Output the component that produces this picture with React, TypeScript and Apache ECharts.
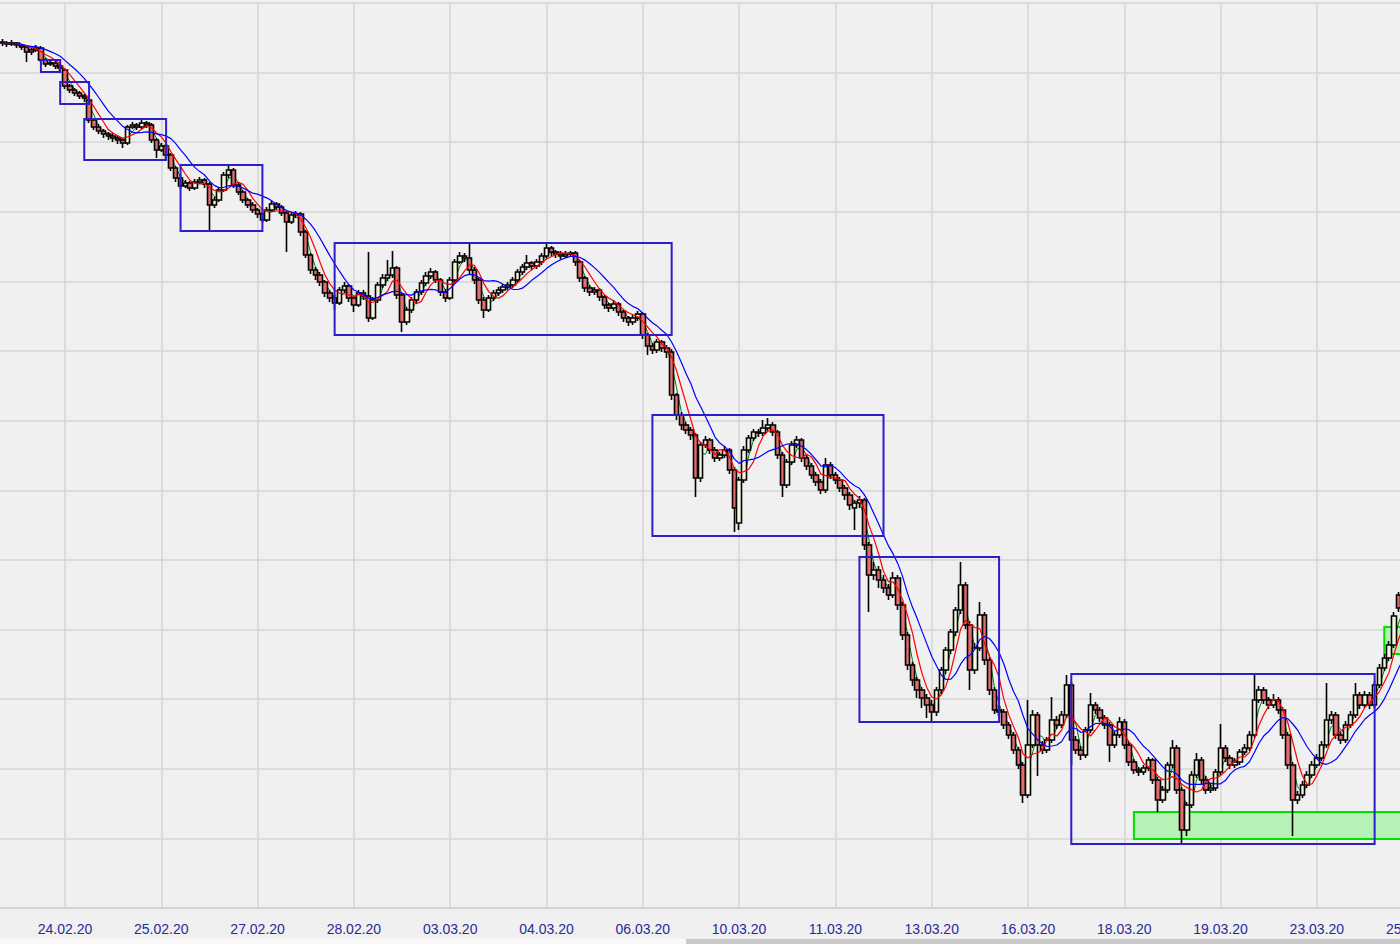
import React, { useEffect, useRef } from "react";
import * as echarts from "echarts";

// ---- tick labels (one every 20 candles, first at candle 13) ----
const dateLabels = [
  "24.02.20", "25.02.20", "27.02.20", "28.02.20", "03.03.20", "04.03.20", "06.03.20",
  "10.03.20", "11.03.20", "13.03.20", "16.03.20", "18.03.20", "19.03.20", "23.03.20", "25.03.20",
];
const firstLabelIndex = 13;
const labelStep = 20;
const categoryCount = 297;

// ---- candles: [open, close, low, high] ----
const candlesLateFeb = [
  [866,865,862,869],[865,864,861,867],[864,865,862,868],[865,863,860,866],[863,861,858,864],
  [861,856,846,862],[856,858,853,861],[858,860,856,863],[860,848,846,862],[848,844,841,850],
  [844,845,842,848],[845,842,839,847],[842,840,837,845],[838,822,819,840],[822,818,815,824],
  [818,815,812,820],[815,812,809,817],[812,810,806,814],[808,788,785,810],[788,781,778,790],
  [781,777,774,784],[777,774,770,779],[774,772,768,776],[772,770,766,775],[770,768,764,772],
  [768,765,760,770],[765,781,763,783],[781,783,779,786],[783,781,778,785],[781,785,779,788],
  [785,783,780,787],[783,768,765,785],[768,758,750,770],[758,762,756,765],[762,753,749,764],
  [753,740,737,755],[740,730,726,742],[730,722,719,733],[722,725,720,728],[725,720,717,727],
  [720,726,718,729],[726,728,724,731],[728,724,720,730],[724,703,678,726],[703,708,700,711],
  [708,718,706,721],[718,733,716,736],[733,738,730,744],[738,723,720,740],[723,716,713,726],
  [716,708,705,718],[708,703,700,710],[703,698,695,706],[698,694,690,700],[694,688,685,696],
  [688,698,686,701],[698,704,696,707],[704,701,698,706],[701,695,692,703],[695,686,656,697],
  [686,693,684,696],[693,694,690,697],[694,676,672,696],[676,653,650,678],[653,638,634,655],
  [638,633,628,641],[633,626,622,636],[626,615,611,628],[615,610,606,618],[610,605,598,613],
  [605,618,603,621],[618,622,615,626],[622,610,606,624],
];
const candlesEarlyMar = [
  [610,603,596,612],[603,615,601,618],[615,612,608,618],[612,590,586,656],[590,608,588,611],
  [608,623,605,626],[623,630,620,634],[630,633,627,648],[633,640,630,657],[640,613,609,642],
  [613,586,576,615],[586,598,583,601],[598,608,595,611],[608,616,605,619],[616,625,613,628],
  [625,632,622,636],[632,636,629,640],[636,628,625,638],[628,616,612,630],[616,610,606,619],
  [610,628,608,631],[628,646,626,649],[646,652,644,656],[652,650,646,655],[650,638,634,665],
  [638,628,624,641],[628,608,604,630],[608,598,590,611],[598,610,596,613],[610,615,607,618],
  [615,618,612,621],[618,621,615,624],[621,623,618,626],[623,628,620,631],[628,636,625,639],
  [636,641,633,644],[641,645,638,653],[645,642,638,647],[642,646,639,649],[646,652,643,655],
  [652,660,649,665],[660,656,652,662],[656,654,650,658],[654,652,649,657],[652,654,650,657],
  [654,655,651,657],[655,646,642,657],[646,630,626,648],[630,620,616,632],[620,616,612,623],
  [616,618,613,621],[618,611,607,620],[611,603,599,613],[603,600,596,605],[600,604,597,608],
  [604,596,592,606],[596,590,586,598],[590,586,582,592],[586,590,583,593],[590,594,587,597],
  [594,573,569,596],[573,562,553,575],[562,558,554,565],[558,566,555,569],[566,560,556,568],
  [560,556,550,563],[556,513,508,559],
];
const candlesMidMar = [
  [513,493,488,515],[493,483,478,496],[483,478,474,486],[478,473,468,481],[473,430,411,475],
  [430,463,426,466],[463,468,460,472],[468,458,454,470],[458,450,446,461],[450,453,447,456],
  [453,458,450,462],[458,438,434,460],[438,400,376,441],[385,428,378,431],[428,458,425,462],
  [458,470,455,473],[470,476,467,479],[476,475,471,479],[475,480,472,488],[480,483,477,490],
  [483,476,472,486],[476,453,449,478],[453,423,411,456],[423,446,420,449],[446,463,443,467],
  [463,468,460,472],[468,450,446,470],[450,442,438,453],[442,433,429,445],[433,426,422,436],
  [426,418,414,429],[418,443,415,450],[443,433,429,446],[433,428,424,436],[428,420,416,431],
  [420,413,408,423],[413,403,398,416],[400,405,378,408],[405,408,400,412],[408,363,358,410],
  [363,333,296,366],[333,338,328,346],[338,328,320,342],[328,320,315,333],[320,313,308,324],
  [313,330,310,336],[330,303,298,333],[303,273,268,306],[273,243,238,276],[243,228,222,246],
  [228,218,210,231],[218,210,200,221],[210,203,190,214],[203,196,186,208],[196,218,192,221],
  [218,238,214,241],[238,258,234,261],[258,276,254,279],[276,298,272,301],[298,323,294,346],
  [323,283,279,326],[283,238,218,287],[238,260,234,265],[260,293,257,306],[293,248,243,296],
  [248,218,213,251],[218,198,194,221],[198,196,192,203],
];
const candlesLateMar = [
  [196,183,179,199],[183,173,169,186],[173,158,154,176],[158,143,139,161],[143,113,105,146],
  [113,163,110,208],[163,193,160,198],[193,163,132,196],[163,158,154,167],[158,168,155,171],
  [168,188,165,211],[188,183,179,192],[183,193,180,197],[193,223,190,233],[223,168,143,226],
  [168,158,154,172],[158,153,148,162],[153,178,150,181],[178,203,175,215],[203,198,194,206],
  [198,190,186,201],[190,183,179,193],[183,163,146,186],[163,173,160,177],[173,186,170,191],
  [186,163,159,189],[163,146,142,166],[146,138,134,149],[138,136,132,141],[136,140,133,143],
  [140,148,137,151],[148,128,124,150],[128,108,96,131],[108,118,105,122],[118,143,115,146],
  [143,160,140,168],[160,118,114,163],[118,78,65,121],[78,103,72,106],[103,133,100,137],
  [133,148,130,155],[148,128,124,151],[128,118,114,132],[118,120,115,124],[120,136,117,139],
  [136,160,133,184],[160,150,146,163],[150,143,139,153],[143,146,140,150],[146,156,143,159],
  [156,160,153,164],[160,173,157,177],[173,208,170,234],[208,218,205,222],[218,208,204,221],
  [208,203,199,211],[203,208,200,214],[208,198,194,211],[198,173,169,201],[173,143,139,176],
  [143,108,72,146],[108,113,104,117],[113,123,110,127],[123,133,120,137],[133,143,130,147],
  [143,150,140,154],[150,163,147,167],[163,188,160,225],[188,193,184,197],[193,173,169,196],
  [173,168,164,176],[168,183,165,187],[183,193,180,197],[193,213,190,225],[213,203,199,216],
  [203,213,200,217],[213,203,199,216],[203,223,200,227],[223,240,220,244],[240,250,237,254],
  [250,263,247,267],[263,292,260,296],[313,300,296,316],[300,305,296,309],
];

// ---- annotation boxes: [startCandle, endCandle, low, high] ----
const blueBoxes = [
  [8, 12, 836, 848],
  [12, 18, 804, 826],
  [17, 34, 748, 789],
  [37, 54, 677, 743],
  [69, 139, 573, 665],
  [135, 183, 372, 493],
  [178, 207, 186, 351],
  [222, 285, 64, 234],
];
const greenBoxes = [
  [235, 296, 69, 96],
  [287, 296, 254, 281],
];

const maFastPeriod = 3;
const maMidPeriod = 5;
const maSlowPeriod = 10;

const candles = [...candlesLateFeb, ...candlesEarlyMar, ...candlesMidMar, ...candlesLateMar];
const closes = candles.map((r) => r[1]);
const categories = Array.from({ length: categoryCount }, (_, i) => String(i));

function movingAverage(period: number) {
  return closes.map((_, i) => {
    const s = Math.max(0, i - period + 1);
    let sum = 0;
    for (let j = s; j <= i; j++) sum += closes[j];
    return +(sum / (i - s + 1)).toFixed(2);
  });
}

const isLabelIndex = (i: number) => i >= firstLabelIndex && (i - firstLabelIndex) % labelStep === 0;
const boxData = (boxes: number[][]) =>
  boxes.map((b) => [
    { xAxis: b[0], yAxis: b[2] },
    { xAxis: b[1], yAxis: b[3] },
  ]);

const yStep = 905 / 13;
const yMax = yStep * 13;
const CHART_W = 1430;
const CHART_H = 944;

export default function App() {
  const ref = useRef<HTMLDivElement>(null);
  useEffect(() => {
    if (!ref.current) return;
    const chart = echarts.init(ref.current, undefined, {
      renderer: "svg",
      width: CHART_W,
      height: CHART_H,
    });
    const gridColor = "#d6d6d6";
    chart.setOption({
      animation: false,
      backgroundColor: "#f0f0f0",
      grid: {
        left: 0,
        right: 0,
        top: 3,
        bottom: 36,
        containLabel: false,
        outerBoundsMode: "none",
      },
      xAxis: {
        type: "category",
        data: categories,
        boundaryGap: true,
        axisLine: { show: true, lineStyle: { color: "#d0d0d0", width: 1.5 } },
        axisTick: { show: false },
        axisLabel: {
          interval: (i: number) => isLabelIndex(i),
          formatter: (_v: string, i: number) => dateLabels[(i - firstLabelIndex) / labelStep] ?? "",
          color: "#2a2a98",
          fontSize: 14,
          fontFamily: '"Liberation Sans", Arial, sans-serif',
          margin: 14,
        },
        splitLine: {
          show: true,
          interval: (i: number) => isLabelIndex(i),
          alignWithLabel: true,
          lineStyle: { color: gridColor, width: 1.5 },
        },
      },
      yAxis: {
        type: "value",
        min: 0,
        max: yMax,
        interval: yStep,
        axisLabel: { show: false },
        axisLine: { show: false },
        axisTick: { show: false },
        splitLine: { lineStyle: { color: gridColor, width: 1.5 } },
      },
      series: [
        {
          type: "line",
          name: "MA fast",
          data: movingAverage(maFastPeriod),
          z: 1,
          symbol: "none",
          silent: true,
          lineStyle: { color: "#008000", width: 1 },
          markArea: {
            silent: true,
            z: 1,
            itemStyle: { color: "#b6f2b6", borderColor: "#00e000", borderWidth: 2 },
            data: boxData(greenBoxes),
          },
        },
        {
          type: "candlestick",
          name: "Price",
          data: candles,
          barWidth: 5,
          z: 2,
          silent: true,
          itemStyle: {
            color: "#f6f6dc",
            color0: "#e46c6c",
            borderColor: "#000000",
            borderColor0: "#000000",
            borderWidth: 1.6,
          },
        },
        {
          type: "line",
          name: "MA mid",
          data: movingAverage(maMidPeriod),
          z: 3,
          symbol: "none",
          silent: true,
          lineStyle: { color: "#ff0000", width: 1.2 },
        },
        {
          type: "line",
          name: "MA slow",
          data: movingAverage(maSlowPeriod),
          z: 3,
          symbol: "none",
          silent: true,
          lineStyle: { color: "#0000ff", width: 1.2 },
          markArea: {
            silent: true,
            z: 4,
            itemStyle: { color: "rgba(0,0,0,0)", borderColor: "#2b1fcc", borderWidth: 2 },
            data: boxData(blueBoxes),
          },
        },
      ],
      graphic: [
        { type: "rect", shape: { x: 0, y: 939, width: 686, height: 5 }, style: { fill: "#f8f8f8" }, silent: true },
        { type: "rect", shape: { x: 686, y: 939, width: 744, height: 5 }, style: { fill: "#c9c9c9" }, silent: true },
      ],
    });
    return () => chart.dispose();
  }, []);

  return (
    <div
      style={{
        position: "fixed",
        left: 0,
        top: 0,
        width: 1400,
        height: 944,
        overflow: "hidden",
        background: "#f0f0f0",
      }}
    >
      <div ref={ref} style={{ width: CHART_W, height: CHART_H }} />
    </div>
  );
}
